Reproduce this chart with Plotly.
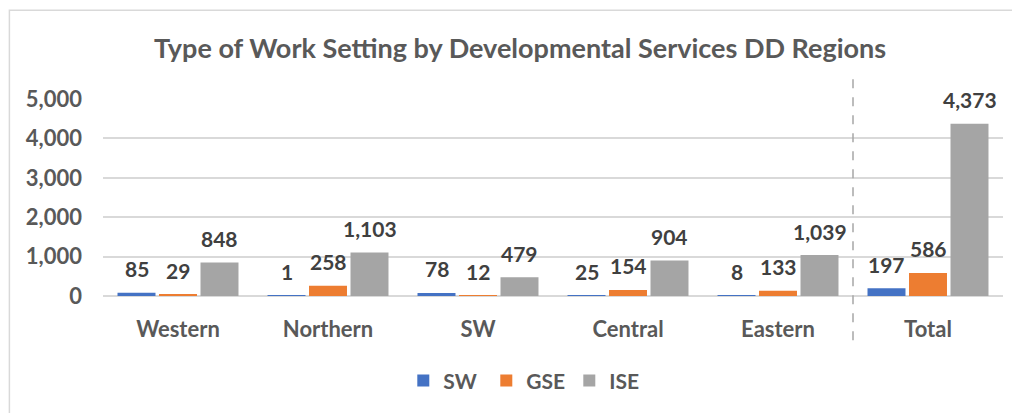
import plotly.graph_objects as go

categories = ["Western", "Northern", "SW", "Central", "Eastern", "Total"]
series_names = ["SW", "GSE", "ISE"]
sw_values = [85, 1, 78, 25, 8, 197]
gse_values = [29, 258, 12, 154, 133, 586]
ise_values = [848, 1103, 479, 904, 1039, 4373]
colors = ["#4472C4", "#ED7D31", "#A5A5A5"]
y_ticks = [0, 1000, 2000, 3000, 4000, 5000]

FONT = "Lato, 'Open Sans', sans-serif"
all_values = [sw_values, gse_values, ise_values]

fig = go.Figure()
for name, vals, col in zip(series_names, all_values, colors):
    fig.add_trace(go.Bar(name=name, x=categories, y=vals, marker_color=col,
                         marker_line_width=0, cliponaxis=False))

# data labels above bars
offsets = [-41.5, 0, 41.5]
for vals, off in zip(all_values, offsets):
    for c, v in zip(categories, vals):
        fig.add_annotation(x=c, y=v, xref="x", yref="y", text=f"{v:,}",
                           showarrow=False, xshift=off, yanchor="middle", yshift=24,
                           font=dict(family=FONT, size=21, color="#404040", weight="bold"))

# dashed separator between regions and total
fig.add_shape(type="line", xref="x", yref="paper", x0=4.5, x1=4.5, y0=-0.225, y1=1.135,
              line=dict(color="#A6A6A6", width=1.5, dash="dash"))
# chart border
fig.add_shape(type="rect", xref="paper", yref="paper", x0=-0.104, x1=1.2, y0=-0.8, y1=1.45,
              line=dict(color="#D9D9D9", width=1.5), layer="below")

fig.update_layout(
    width=1012, height=405,
    margin=dict(l=95, r=17, t=91, b=117),
    paper_bgcolor="white", plot_bgcolor="white",
    barmode="group", bargap=0.17, bargroupgap=0.085,
    title=dict(text="Type of Work Setting by Developmental Services DD Regions",
               x=0.506, xanchor="center", y=0.901, yanchor="middle",
               font=dict(family=FONT, size=27, color="#595959", weight="bold")),
    legend=dict(orientation="h", x=0.472, xanchor="center", y=-0.431, yanchor="middle",
                font=dict(family=FONT, size=21, color="#595959", weight="bold"),
                itemwidth=30, entrywidth=38, traceorder="normal"),
    showlegend=True,
)
fig.update_yaxes(range=[0, 5000], tickvals=y_ticks, tickformat=",", showgrid=True,
                 gridcolor="#D9D9D9", gridwidth=1.5, zeroline=True, zerolinecolor="#D9D9D9",
                 zerolinewidth=1.5, showline=False, ticks="", ticklabelstandoff=20,
                 tickfont=dict(family=FONT, size=22, color="#595959", weight="bold"))
fig.update_xaxes(showgrid=False, showline=False, ticks="", ticklabelstandoff=18,
                 tickfont=dict(family=FONT, size=22, color="#595959", weight="bold"))

fig.write_html("out.html")
